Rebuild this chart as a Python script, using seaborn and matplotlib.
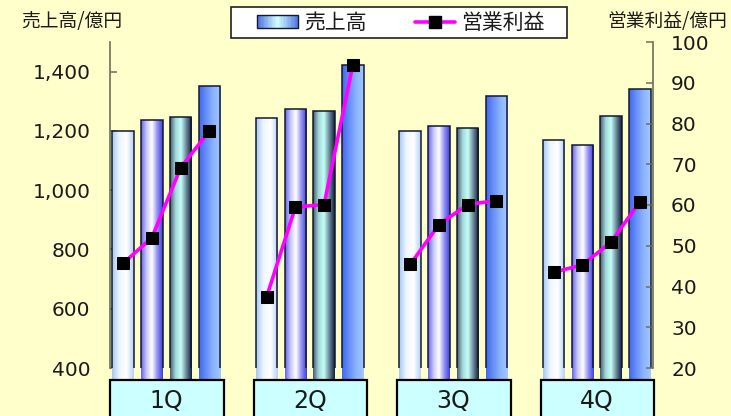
import numpy as np
import pandas as pd
import matplotlib
matplotlib.use("Agg")
import matplotlib.pyplot as plt
import seaborn as sns
from matplotlib.colors import LinearSegmentedColormap
from matplotlib.patches import Rectangle
from matplotlib.lines import Line2D
from matplotlib.legend_handler import HandlerBase
from matplotlib.ticker import FuncFormatter

# ---------------- data ----------------
quarters = ["1Q", "2Q", "3Q", "4Q"]
sales_1q = [1200, 1238, 1247, 1350]
sales_2q = [1242, 1273, 1268, 1424]
sales_3q = [1200, 1216, 1209, 1317]
sales_4q = [1170, 1152, 1251, 1343]
profit_1q = [45.7, 52.0, 69.1, 78.2]
profit_2q = [37.5, 59.5, 60.1, 94.4]
profit_3q = [45.4, 55.2, 60.1, 61.1]
profit_4q = [43.5, 45.3, 50.9, 60.8]
left_ticks = [400, 600, 800, 1000, 1200, 1400]
right_ticks = [20, 30, 40, 50, 60, 70, 80, 90, 100]
left_label = "売上高/億円"
right_label = "営業利益/億円"
legend_sales = "売上高"
legend_profit = "営業利益"

sales = [sales_1q, sales_2q, sales_3q, sales_4q]
profit = [profit_1q, profit_2q, profit_3q, profit_4q]
rows = []
for g, q in enumerate(quarters):
    for i in range(4):
        rows.append({"quarter": q, "series": i, "pos": g * 5 + i,
                     "sales": sales[g][i], "profit": profit[g][i]})
df = pd.DataFrame(rows)

# ---------------- style ----------------
BG = "#ffffcc"
CJK = ["Noto Sans CJK JP", "DejaVu Sans"]
sns.set_theme(style="white")
plt.rcParams["font.family"] = ["DejaVu Sans", "Noto Sans CJK JP"]

fig = plt.figure(figsize=(7.31, 4.16), dpi=100, facecolor=BG)
ax = fig.add_axes([110 / 731, 48 / 416, 543 / 731, 326 / 416])
ax.set_facecolor(BG)

sns.barplot(data=df, x="pos", y="sales", native_scale=True, width=0.75,
            ax=ax, color="#a0c0ff", saturation=1, errorbar=None, zorder=2)

grads = [
    ["#a4c8f4", "#eef6ff", "#ffffff", "#b4d2f6"],
    ["#6464ec", "#c8c8ff", "#ffffff", "#9090f4", "#4040e0"],
    ["#4a5a74", "#a0d8d8", "#c4fff8", "#6a8898", "#102040"],
    ["#4068ee", "#6890f8", "#8cb4ff", "#a0c8ff"],
]
cmaps = [LinearSegmentedColormap.from_list(f"g{i}", c) for i, c in enumerate(grads)]
grad_row = np.linspace(0, 1, 64).reshape(1, -1)

for k, p in enumerate(ax.patches):
    s = df["series"].iloc[k]
    x0, y0 = p.get_x(), p.get_y()
    w, h = p.get_width(), p.get_height()
    im = ax.imshow(grad_row, extent=[x0, x0 + w, y0, y0 + h], aspect="auto",
                   cmap=cmaps[s], zorder=1.5, interpolation="bilinear")
    im.set_clip_path(p)
    p.set_facecolor("none")
    p.set_edgecolor("#141830")
    p.set_linewidth(1.1)

ax.set_xlim(-0.46, 18.46)
ax.set_ylim(400, 1500)
ax.set_aspect("auto")
ax.set_yticks(left_ticks)
ax.yaxis.set_major_formatter(FuncFormatter(lambda v, _: f"{int(v):,}"))
ax.set_xticks([])
ax.set_xlabel("")
ax.set_ylabel("")

spine_c = "#6e6e5a"
for side in ["top", "bottom", "right"]:
    ax.spines[side].set_visible(False)
ax.spines["left"].set_color(spine_c)
ax.spines["left"].set_linewidth(1.2)
ax.tick_params(axis="y", direction="in", length=5, width=1.1, color=spine_c,
               labelsize=14.5, labelcolor="#1a1a1a", pad=14, left=True)

# ---------------- profit line ----------------
ax2 = ax.twinx()
sns.lineplot(data=df, x="pos", y="profit", units="quarter", estimator=None,
             color="#ff00ff", linewidth=2.6, marker="s", markersize=8.5,
             markerfacecolor="black", markeredgecolor="black",
             ax=ax2, legend=False, zorder=5)
ax2.set_xlim(-0.46, 18.46)
ax2.set_ylim(20, 100)
ax2.set_yticks(right_ticks)
ax2.set_ylabel("")
ax2.set_xlabel("")
for side in ["top", "bottom", "left"]:
    ax2.spines[side].set_visible(False)
ax2.spines["right"].set_color(spine_c)
ax2.spines["right"].set_linewidth(1.2)
ax2.tick_params(axis="y", direction="in", length=5, width=1.1, color=spine_c,
                labelsize=14.5, labelcolor="#1a1a1a", pad=13, right=True)

# ---------------- quarter boxes ----------------
trans = matplotlib.transforms.blended_transform_factory(ax.transData, ax.transAxes)
for g, q in enumerate(quarters):
    center = df.loc[df["quarter"] == q, "pos"].mean()
    ax.add_patch(Rectangle((center - 1.95, -0.25), 3.95, 0.213, transform=trans,
                           facecolor="#ccffff", edgecolor="black",
                           linewidth=1.6, clip_on=False, zorder=3))
    ax.text(center, -0.1, q, transform=trans, ha="center", va="center",
            fontsize=17, color="#1a1a1a", zorder=4)

# ---------------- axis titles ----------------
fig.text(21 / 731, 1 - 21 / 416, left_label, ha="left", va="center",
         fontsize=13.5, family=CJK, color="#1a1a1a")
fig.text(727 / 731, 1 - 21 / 416, right_label, ha="right", va="center",
         fontsize=13.5, family=CJK, color="#1a1a1a")

# ---------------- legend ----------------
leg_cmap = LinearSegmentedColormap.from_list("leg", ["#4870e0", "#d4ffff", "#5078e4"])


class GradHandler(HandlerBase):
    def create_artists(self, legend, orig_handle, xdescent, ydescent,
                       width, height, fontsize, trans):
        n = 30
        arts = []
        for k in range(n):
            arts.append(Rectangle((-xdescent + k * width / n, -ydescent),
                                  width / n + 0.3, height,
                                  facecolor=leg_cmap((k + 0.5) / n),
                                  edgecolor="none", transform=trans))
        arts.append(Rectangle((-xdescent, -ydescent), width, height,
                              facecolor="none", edgecolor="#141830",
                              linewidth=1.0, transform=trans))
        return arts


# legend frame
fig.patches.append(Rectangle((231 / 731, 1 - 38 / 416), 336 / 731, 31 / 416,
                             transform=fig.transFigure, facecolor="white",
                             edgecolor="#202020", linewidth=1.2, zorder=0))

bar_handle = Rectangle((0, 0), 1, 1)
line_handle = Line2D([], [], color="#ff00ff", linewidth=2.6, marker="s",
                     markersize=8.5, markerfacecolor="black",
                     markeredgecolor="black")
leg = fig.legend([bar_handle, line_handle], [legend_sales, legend_profit],
                 handler_map={Rectangle: GradHandler()},
                 loc="center", bbox_to_anchor=(401 / 731, 1 - 23 / 416),
                 ncol=2, frameon=False,
                 prop={"family": CJK, "size": 15},
                 handlelength=1.95, handleheight=0.6, columnspacing=2.3,
                 handletextpad=0.3, borderpad=0.1, borderaxespad=0)
for t in leg.get_texts():
    t.set_color("#1a1a1a")

fig.savefig("out.png", dpi=100, facecolor=BG)
